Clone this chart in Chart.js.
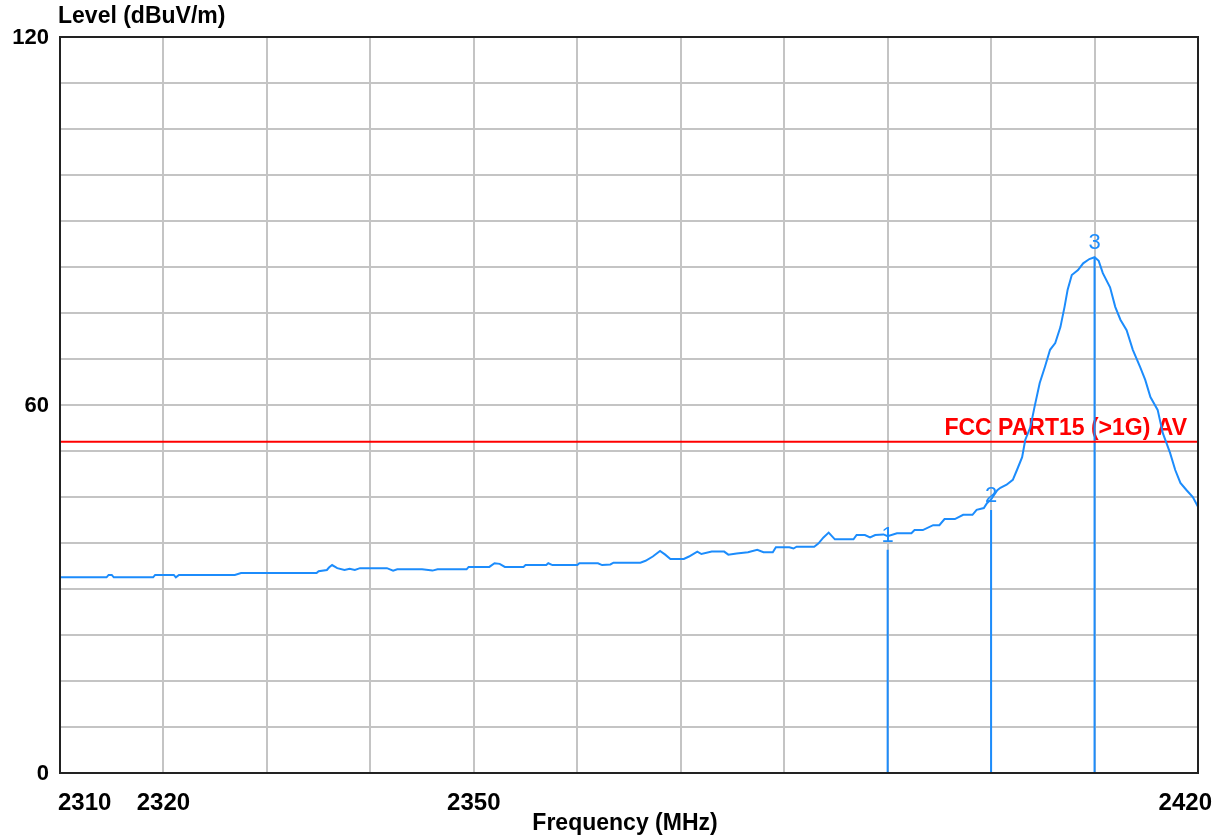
<!DOCTYPE html>
<html>
<head>
<meta charset="utf-8">
<script src="https://cdn.jsdelivr.net/npm/chart.js@4/dist/chart.umd.min.js"></script>
<style>
  body { margin: 0; background: #fff; }
  canvas { display: block; }
</style>
</head>
<body>
<canvas id="myChart" width="1221" height="837"></canvas>
<script>
// axis ranges and labels
const freqMin = 2310;
const freqMax = 2420;
const levelMin = 0;
const levelMax = 120;
const xTickLabels = [2310, 2320, 2350, 2420];
const yTickLabels = [0, 60, 120];
const xTitle = 'Frequency (MHz)';
const yTitle = 'Level (dBuV/m)';

const traceFreq = [
  2310.0, 2314.5, 2314.7, 2315.0, 2315.2, 2319.0, 2319.2, 2321.0, 2321.2, 2321.5,
  2326.9, 2327.5, 2334.8, 2335.0, 2335.8, 2336.0, 2336.3, 2336.8, 2337.5, 2338.0,
  2338.5, 2339.0, 2341.6, 2342.2, 2342.6, 2345.0, 2346.0, 2346.5, 2349.3, 2349.5,
  2351.5, 2352.0, 2352.5, 2353.0, 2354.8, 2355.0, 2357.0, 2357.2, 2357.6, 2360.0,
  2360.2, 2362.0, 2362.4, 2363.2, 2363.5, 2366.1, 2366.6, 2367.3, 2368.0, 2368.5,
  2369.0, 2370.3, 2370.8, 2371.6, 2372.0, 2373.0, 2374.2, 2374.6, 2375.4, 2376.5,
  2377.4, 2378.0, 2378.9, 2379.2, 2380.5, 2380.9, 2381.2, 2382.9, 2383.3, 2383.8,
  2384.3, 2384.9, 2386.7, 2387.0, 2387.8, 2388.3, 2388.8, 2389.6, 2390.0, 2390.9,
  2392.3, 2392.6, 2393.4, 2394.4, 2395.0, 2395.5, 2396.5, 2397.3, 2398.2, 2398.6,
  2399.3, 2399.6, 2400.0, 2400.6, 2400.9, 2401.5, 2402.1, 2402.5, 2403.0, 2403.3,
  2403.8, 2404.2, 2404.7, 2405.2, 2405.7, 2406.2, 2406.7, 2407.1, 2407.4, 2407.8,
  2408.4, 2408.9, 2409.5, 2410.0, 2410.4, 2410.8, 2411.5, 2412.0, 2412.5, 2413.1,
  2413.7, 2414.4, 2414.9, 2415.4, 2416.1, 2416.6, 2417.3, 2417.8, 2418.3, 2418.9,
  2419.5, 2420.0
];
const traceLevel = [
  31.9, 31.9, 32.3, 32.3, 31.9, 31.9, 32.3, 32.3, 31.9, 32.3,
  32.3, 32.6, 32.6, 32.9, 33.1, 33.5, 33.9, 33.4, 33.1, 33.3,
  33.1, 33.4, 33.4, 33.0, 33.2, 33.2, 33.0, 33.2, 33.2, 33.6,
  33.6, 34.2, 34.1, 33.6, 33.6, 33.9, 33.9, 34.2, 33.9, 33.9,
  34.2, 34.2, 33.9, 34.0, 34.3, 34.3, 34.6, 35.3, 36.2, 35.6,
  34.9, 34.9, 35.3, 36.1, 35.7, 36.1, 36.1, 35.6, 35.8, 36.0,
  36.4, 36.0, 36.0, 36.8, 36.8, 36.6, 36.9, 36.9, 37.4, 38.4,
  39.2, 38.1, 38.1, 38.8, 38.8, 38.4, 38.8, 38.9, 38.6, 39.1,
  39.1, 39.6, 39.6, 40.4, 40.4, 41.4, 41.4, 42.1, 42.1, 42.9,
  43.2, 44.0, 44.6, 46.1, 46.5, 47.0, 47.8, 49.4, 51.5, 54.3,
  56.4, 59.7, 63.6, 66.2, 69.0, 70.1, 72.7, 76.0, 78.8, 81.2,
  82.0, 83.1, 83.8, 84.1, 83.5, 81.5, 79.2, 76.0, 73.9, 72.2,
  69.0, 66.2, 64.1, 61.3, 59.2, 55.4, 52.2, 49.4, 47.3, 46.1,
  45.0, 43.4
];

// limit line
const limitLevel = 54;
const limitName = 'FCC PART15 (>1G) AV';

// markers
const markerNames = ['1', '2', '3'];
const markerFreq = [2390, 2400, 2410];
const markerTop = [36.4, 42.9, 84.1];

const traceColor = '#1c8cfc';
const limitColor = '#ff0000';

const datasets = [{
  label: 'trace',
  data: traceFreq.map((f, i) => ({ x: f, y: traceLevel[i] })),
  borderColor: traceColor,
  borderWidth: 2,
  pointRadius: 0,
  tension: 0
}, {
  label: 'limit',
  data: [{ x: freqMin, y: limitLevel }, { x: freqMax, y: limitLevel }],
  borderColor: limitColor,
  borderWidth: 2,
  pointRadius: 0
}];

markerFreq.forEach((f, i) => {
  datasets.push({
    label: 'marker ' + markerNames[i],
    data: [{ x: f, y: levelMin }, { x: f, y: markerTop[i] }],
    borderColor: traceColor,
    borderWidth: 2,
    pointRadius: 0
  });
});

const textPlugin = {
  id: 'plotText',
  beforeDatasetsDraw(chart) {
    const ctx = chart.ctx;
    const xs = chart.scales.x;
    const ys = chart.scales.y;
    ctx.save();
    ctx.font = 'bold 23px Arial';
    ctx.fillStyle = limitColor;
    ctx.textAlign = 'right';
    ctx.textBaseline = 'alphabetic';
    ctx.fillText(limitName, xs.getPixelForValue(freqMax) - 11, ys.getPixelForValue(limitLevel) - 7);
    ctx.restore();
  },
  afterDraw(chart) {
    const ctx = chart.ctx;
    const xs = chart.scales.x;
    const ys = chart.scales.y;
    const area = chart.chartArea;
    ctx.save();

    // frame
    ctx.strokeStyle = '#222';
    ctx.lineWidth = 2;
    ctx.strokeRect(area.left, area.top, area.right - area.left, area.bottom - area.top);

    ctx.fillStyle = '#000';

    // y ticks
    ctx.font = 'bold 22px Arial';
    ctx.textAlign = 'right';
    ctx.textBaseline = 'middle';
    yTickLabels.forEach(v => {
      ctx.fillText(String(v), area.left - 11, ys.getPixelForValue(v) + 1);
    });

    // x ticks
    ctx.font = 'bold 24px Arial';
    ctx.textAlign = 'left';
    ctx.textBaseline = 'alphabetic';
    xTickLabels.forEach(v => {
      const label = String(v);
      const w = ctx.measureText(label).width;
      let left = xs.getPixelForValue(v) - w / 2;
      left = Math.max(left, area.left - 2);
      left = Math.min(left, chart.width - 9 - w);
      ctx.fillText(label, left, area.bottom + 37);
    });

    // axis titles
    ctx.font = 'bold 23px Arial';
    ctx.textAlign = 'left';
    ctx.textBaseline = 'middle';
    ctx.fillText(yTitle, area.left - 2, 17);
    ctx.textAlign = 'center';
    ctx.textBaseline = 'alphabetic';
    ctx.fillText(xTitle, (area.left + area.right) / 2 - 4, area.bottom + 57);

    // marker labels
    ctx.font = '22px Arial';
    ctx.fillStyle = traceColor;
    ctx.textAlign = 'center';
    markerFreq.forEach((f, i) => {
      ctx.fillText(markerNames[i], xs.getPixelForValue(f), ys.getPixelForValue(markerTop[i]) - 8);
    });

    ctx.restore();
  }
};

const chart = new Chart(document.getElementById('myChart').getContext('2d'), {
  type: 'line',
  data: { datasets: datasets },
  options: {
    responsive: false,
    animation: false,
    devicePixelRatio: 1,
    layout: { padding: { left: 60, right: 23, top: 37, bottom: 64 } },
    plugins: {
      legend: { display: false },
      tooltip: { enabled: false }
    },
    scales: {
      x: {
        type: 'linear',
        min: freqMin,
        max: freqMax,
        ticks: { display: false, stepSize: 10 },
        grid: { color: '#c4c4c4', lineWidth: 2, drawTicks: false },
        border: { display: false }
      },
      y: {
        type: 'linear',
        min: levelMin,
        max: levelMax,
        ticks: { display: false, stepSize: 7.5 },
        grid: { color: '#c4c4c4', lineWidth: 2, drawTicks: false },
        border: { display: false }
      }
    }
  },
  plugins: [textPlugin]
});
</script>
</body>
</html>
